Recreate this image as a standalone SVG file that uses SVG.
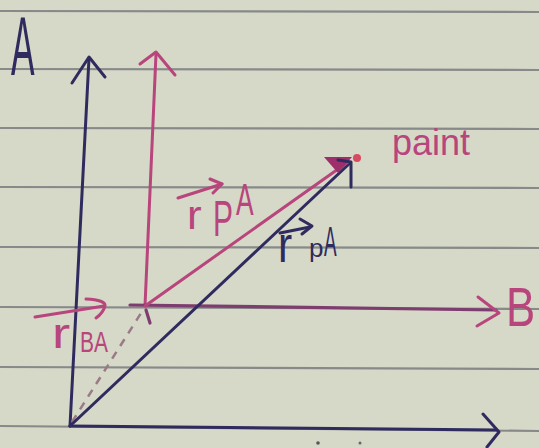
<svg xmlns="http://www.w3.org/2000/svg" width="539" height="448" viewBox="0 0 539 448">
<style>
.rule{stroke:#878a89;stroke-width:2.2;fill:none}
.navy{stroke:#2f2b5e;stroke-width:3;fill:none;stroke-linecap:round;stroke-linejoin:round}
.pink{stroke:#b8457c;stroke-width:3;fill:none;stroke-linecap:round;stroke-linejoin:round}
.plum{stroke:#7d3d6f;stroke-width:3.2;fill:none;stroke-linecap:round;stroke-linejoin:round}
.dash{stroke:#9b7a88;stroke-width:2.5;fill:none;stroke-dasharray:8 7}
.tn{font-family:"Liberation Sans",Arial,sans-serif;fill:#2f2b5e}
.tp{font-family:"Liberation Sans",Arial,sans-serif;fill:#b8457c}
</style>
<rect width="539" height="448" fill="#d6d8c8"/>
<g id="paper-lines">
<line class="rule" x1="0" y1="11" x2="539" y2="12"/>
<line class="rule" x1="0" y1="69" x2="539" y2="70"/>
<line class="rule" x1="0" y1="128" x2="539" y2="129"/>
<line class="rule" x1="0" y1="187" x2="539" y2="188"/>
<line class="rule" x1="0" y1="247" x2="539" y2="248"/>
<line class="rule" x1="0" y1="307" x2="539" y2="309"/>
<line class="rule" x1="0" y1="367" x2="539" y2="369"/>
<line class="rule" x1="0" y1="426" x2="539" y2="431"/>
<circle cx="318" cy="443" r="1.8" fill="#555"/>
<circle cx="360" cy="443" r="1.5" fill="#666"/>
</g>
<g id="frame-A">
<line class="navy" x1="70" y1="426" x2="89" y2="58"/>
<polyline class="navy" points="72,83 89,57 105,77"/>
<line class="navy" x1="70" y1="426" x2="497" y2="430"/>
<polyline class="navy" points="483,414 499,432 487,447"/>
<text class="tn" font-size="84" transform="translate(11,75) scale(0.42,1)">A</text>
</g>
<g id="frame-B">
<line class="pink" x1="145" y1="306" x2="156" y2="54"/>
<polyline class="pink" points="140,64 156,52 175,75"/>
<line class="plum" x1="130" y1="305" x2="496" y2="310"/>
<polyline class="pink" points="478,297 499,313 477,326"/>
<line class="plum" x1="146" y1="310" x2="150" y2="323" stroke-width="2.5"/>
<text class="tp" font-size="56" transform="translate(506,326) scale(0.78,1)">B</text>
</g>
<g id="connectors">
<line class="dash" x1="72" y1="422" x2="143" y2="310"/>
<line class="navy" x1="70" y1="426" x2="349" y2="164"/>
<line class="pink" x1="145" y1="306" x2="348" y2="162"/>
</g>
<g id="point">
<polygon points="324,157 352,157 338,173" fill="#9e2f6b"/>
<polyline class="navy" points="338,160 351,162 351,187"/>
<circle cx="357" cy="158" r="4" fill="#d84a60"/>
<text class="tp" font-size="36" x="392" y="155">paint</text>
</g>
<g id="label-rPB">
<line class="pink" x1="178" y1="198" x2="222" y2="184"/>
<polyline class="pink" points="210,179 222,184 213,193"/>
<text class="tp" font-size="40" transform="translate(187,229) scale(1.1,1)">r</text>
<text class="tp" font-size="50" transform="translate(213,236) scale(0.6,1)">P</text>
<text class="tp" font-size="44" transform="translate(236,215) scale(0.6,1)">A</text>
</g>
<g id="label-rPA">
<line class="navy" x1="280" y1="233" x2="310" y2="227"/>
<polyline class="navy" points="300,219 312,226 302,234"/>
<text class="tn" font-size="50" transform="translate(278,262) scale(0.85,1)">r</text>
<text class="tn" font-size="26" x="309" y="257">p</text>
<text class="tn" font-size="42" transform="translate(324,256) scale(0.45,1)">A</text>
</g>
<g id="label-rBA">
<line class="pink" x1="35" y1="317" x2="104" y2="306"/>
<path class="pink" d="M86,299 Q106,300 105,306 Q103,313 96,318"/>
<text class="tp" font-size="42" transform="translate(52,348) scale(1.3,1)">r</text>
<text class="tp" font-size="30" transform="translate(80,352) scale(0.7,1)">BA</text>
</g>
</svg>
